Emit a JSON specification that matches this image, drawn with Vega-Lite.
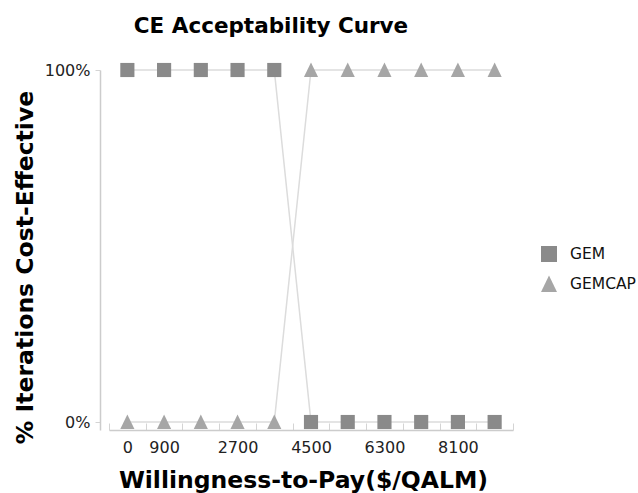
{
  "$schema": "https://vega.github.io/schema/vega-lite/v6.json",
  "width": 404,
  "height": 360,
  "autosize": "none",
  "padding": {"left": 109, "top": 70, "right": 125, "bottom": 63},
  "background": "#ffffff",
  "title": {
    "text": "CE Acceptability Curve",
    "font": "DejaVu Sans",
    "fontSize": 21.5,
    "fontWeight": "bold",
    "color": "#000000",
    "anchor": "middle",
    "dx": -40,
    "offset": 25
  },
  "config": {
    "view": {"stroke": null},
    "font": "DejaVu Sans"
  },
  "data": {
    "values": [
      {"wtp": "0", "series": "GEM", "pct": 1},
      {"wtp": "900", "series": "GEM", "pct": 1},
      {"wtp": "1800", "series": "GEM", "pct": 1},
      {"wtp": "2700", "series": "GEM", "pct": 1},
      {"wtp": "3600", "series": "GEM", "pct": 1},
      {"wtp": "4500", "series": "GEM", "pct": 0},
      {"wtp": "5400", "series": "GEM", "pct": 0},
      {"wtp": "6300", "series": "GEM", "pct": 0},
      {"wtp": "7200", "series": "GEM", "pct": 0},
      {"wtp": "8100", "series": "GEM", "pct": 0},
      {"wtp": "9000", "series": "GEM", "pct": 0},
      {"wtp": "0", "series": "GEMCAP", "pct": 0},
      {"wtp": "900", "series": "GEMCAP", "pct": 0},
      {"wtp": "1800", "series": "GEMCAP", "pct": 0},
      {"wtp": "2700", "series": "GEMCAP", "pct": 0},
      {"wtp": "3600", "series": "GEMCAP", "pct": 0},
      {"wtp": "4500", "series": "GEMCAP", "pct": 1},
      {"wtp": "5400", "series": "GEMCAP", "pct": 1},
      {"wtp": "6300", "series": "GEMCAP", "pct": 1},
      {"wtp": "7200", "series": "GEMCAP", "pct": 1},
      {"wtp": "8100", "series": "GEMCAP", "pct": 1},
      {"wtp": "9000", "series": "GEMCAP", "pct": 1}
    ]
  },
  "encoding": {
    "x": {
      "field": "wtp",
      "type": "ordinal",
      "sort": null,
      "scale": {"type": "band", "paddingInner": 0, "paddingOuter": 0},
      "axis": {
        "title": "Willingness-to-Pay($/QALM)",
        "titleFont": "DejaVu Sans",
        "titleFontSize": 23.5,
        "titleFontWeight": "bold",
        "titleColor": "#000000",
        "titlePadding": 13,
        "titleX": 194,
        "labelAngle": 0,
        "labelFont": "DejaVu Sans",
        "labelFontSize": 16,
        "labelColor": "#222222",
        "labelPadding": 16,
        "labelExpr": "indexof(['0','900','2700','4500','6300','8100'], datum.label) >= 0 ? datum.label : ''",
        "tickBand": "extent",
        "tickSize": -7,
        "tickColor": "#d4d4d4",
        "domainColor": "#cccccc",
        "domainWidth": 1.5,
        "grid": false
      }
    },
    "y": {
      "field": "pct",
      "type": "quantitative",
      "scale": {"domain": [-0.0227, 1], "nice": false, "zero": false},
      "axis": {
        "title": "% Iterations Cost-Effective",
        "titleFont": "DejaVu Sans",
        "titleFontSize": 23.5,
        "titleFontWeight": "bold",
        "titleColor": "#000000",
        "titlePadding": 7,
        "titleY": 197,
        "values": [0, 1],
        "format": ".0%",
        "labelFont": "DejaVu Sans",
        "labelFontSize": 16,
        "labelColor": "#222222",
        "labelPadding": 5,
        "tickSize": 5,
        "tickColor": "#d4d4d4",
        "domainColor": "#cccccc",
        "domainWidth": 1.5,
        "offset": 9,
        "grid": false
      }
    }
  },
  "layer": [
    {
      "mark": {"type": "line", "color": "#dcdcdc", "strokeWidth": 1.5},
      "encoding": {"detail": {"field": "series", "type": "nominal"}}
    },
    {
      "mark": {"type": "point", "filled": true, "size": 200, "opacity": 1, "strokeWidth": 0.8},
      "encoding": {
        "shape": {
          "field": "series",
          "type": "nominal",
          "scale": {"domain": ["GEM", "GEMCAP"], "range": ["square", "M0,-1.05L-1,1L1,1Z"]},
          "legend": null
        },
        "color": {
          "field": "series",
          "type": "nominal",
          "scale": {"domain": ["GEM", "GEMCAP"], "range": ["#8a8a8a", "#a6a6a6"]},
          "legend": {
            "title": null,
            "orient": "none",
            "legendX": 431,
            "legendY": 175,
            "symbolType": "square",
            "symbolSize": 256,
            "symbolOpacity": 1,
            "labelFont": "DejaVu Sans",
            "labelFontSize": 15.5,
            "labelColor": "#111111",
            "labelOffset": 12,
            "rowPadding": 12
          }
        }
      }
    }
  ]
}
